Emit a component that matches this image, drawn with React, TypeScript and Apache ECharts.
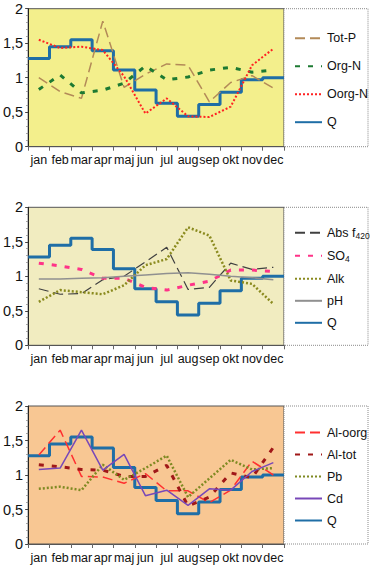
import React, { useEffect, useRef } from 'react';
import * as echarts from 'echarts';

const months = ['jan', 'feb', 'mar', 'apr', 'maj', 'jun', 'jul', 'aug', 'sep', 'okt', 'nov', 'dec'];

// Discharge (Q), same in all three panels
const q = [1.28, 1.45, 1.55, 1.39, 1.11, 0.82, 0.63, 0.44, 0.61, 0.79, 0.97, 1.0];

// Panel 1
const totP = [1.0, 0.8, 0.7, 1.82, 0.86, 1.05, 1.2, 1.18, 0.65, 0.93, 1.03, 0.85];
const orgN = [0.83, 1.04, 0.78, 0.82, 0.92, 1.17, 0.97, 1.01, 1.11, 1.15, 1.08, 1.11];
const oorgN = [1.55, 1.43, 1.45, 1.4, 1.02, 0.48, 0.7, 0.44, 0.43, 0.58, 1.18, 1.42];

// Panel 2
const absF420 = [0.82, 0.74, 0.75, 0.95, 1.0, 1.21, 1.42, 0.81, 0.84, 1.19, 1.1, 1.13];
const so4 = [1.19, 1.15, 1.1, 0.97, 0.97, 0.84, 0.8, 0.87, 0.93, 1.09, 1.09, 1.07];
const alk = [0.63, 0.8, 0.77, 0.74, 0.87, 1.16, 1.25, 1.71, 1.59, 0.94, 0.89, 0.6];
const pH = [0.96, 0.96, 0.97, 0.98, 1.0, 1.02, 1.04, 1.05, 1.03, 1.0, 0.98, 0.95];

// Panel 3
const alOorg = [1.29, 1.65, 0.98, 0.97, 0.88, 1.02, 0.77, 0.77, 0.6, 0.78, 1.2, 1.0];
const alTot = [1.15, 1.12, 1.08, 1.07, 0.98, 0.98, 1.14, 0.55, 0.68, 1.03, 0.96, 1.4];
const pb = [0.8, 0.83, 0.78, 1.15, 0.93, 1.1, 1.28, 0.68, 0.95, 1.22, 1.08, 1.1];
const cd = [1.08, 1.1, 1.65, 1.07, 1.3, 0.7, 0.78, 0.56, 0.8, 0.78, 1.05, 1.18];

const FONT = '"Liberation Sans", Arial, Helvetica, sans-serif';

type LineDef = { name: string; data: number[]; color: string; width: number; dash: any };

const panels: { bg: string; lines: LineDef[]; legendGap: number; legendOffset: number }[] = [
  {
    bg: '#f3ef8c',
    legendGap: 15,
    legendOffset: 25,
    lines: [
      { name: 'Tot-P', data: totP, color: '#b38a58', width: 1.5, dash: [10, 5] },
      { name: 'Org-N', data: orgN, color: '#1d7a32', width: 3, dash: [5, 8] },
      { name: 'Oorg-N', data: oorgN, color: '#ff2222', width: 2, dash: [2, 2] },
    ],
  },
  {
    bg: '#f1ecc0',
    legendGap: 9,
    legendOffset: 21,
    lines: [
      { name: 'Abs f420', data: absF420, color: '#404040', width: 1.2, dash: [10, 5] },
      { name: 'SO4', data: so4, color: '#ff3388', width: 3, dash: [5, 8] },
      { name: 'Alk', data: alk, color: '#8a8a1e', width: 2.5, dash: [2, 2] },
      { name: 'pH', data: pH, color: '#909090', width: 1.5, dash: 'solid' },
    ],
  },
  {
    bg: '#f8c793',
    legendGap: 9,
    legendOffset: 22,
    lines: [
      { name: 'Al-oorg', data: alOorg, color: '#ff3030', width: 1.5, dash: [10, 5] },
      { name: 'Al-tot', data: alTot, color: '#a01818', width: 3, dash: [5, 8] },
      { name: 'Pb', data: pb, color: '#7f8a22', width: 2.5, dash: [2, 2] },
      { name: 'Cd', data: cd, color: '#7848b8', width: 1.5, dash: 'solid' },
    ],
  },
];

const GRID_LEFT = 26;
const GRID_W = 258;
const GRID_H = 138;
const GRID_TOPS = [8.7, 207.3, 406];
const LEGEND_W = 84;

function buildOption() {
  const grid: any[] = [];
  const xAxis: any[] = [];
  const yAxis: any[] = [];
  const series: any[] = [];
  const legend: any[] = [];
  const graphic: any[] = [];

  panels.forEach((p, pi) => {
    const top = GRID_TOPS[pi];
    grid.push({
      left: GRID_LEFT,
      top,
      width: GRID_W,
      height: GRID_H,
      show: true,
      backgroundColor: p.bg,
      borderColor: '#555',
      borderWidth: 1,
    });
    xAxis.push({
      type: 'category',
      gridIndex: pi,
      data: months,
      boundaryGap: true,
      axisLine: { show: true, lineStyle: { color: '#555', width: 1 } },
      axisTick: { show: true, length: 4, lineStyle: { color: '#666' } },
      axisLabel: { interval: 0, fontSize: 12.5, color: '#111', margin: 7, fontFamily: FONT },
      splitLine: { show: false },
    });
    xAxis.push({
      type: 'value',
      gridIndex: pi,
      min: 0,
      max: 12,
      show: false,
      splitLine: { show: false },
    });
    yAxis.push({
      type: 'value',
      gridIndex: pi,
      min: 0,
      max: 2,
      interval: 0.5,
      axisLine: { show: true, lineStyle: { color: '#222', width: 1 } },
      axisTick: { show: true, length: 3, lineStyle: { color: '#444' } },
      minorTick: { show: true, splitNumber: 5, length: 2, lineStyle: { color: '#999' } },
      axisLabel: {
        fontSize: 14.5,
        color: '#111',
        margin: 5,
        fontFamily: FONT,
        formatter: (v: number) => String(v).replace('.', ','),
      },
      splitLine: { show: false },
    });

    p.lines.forEach((l) => {
      series.push({
        type: 'line',
        name: l.name,
        xAxisIndex: pi * 2 + 1,
        yAxisIndex: pi,
        symbol: 'none',
        data: l.data.map((v, i) => [i + 0.5, v]),
        lineStyle: { color: l.color, width: l.width, type: l.dash },
        itemStyle: { color: l.color },
        z: 3,
      });
    });
    series.push({
      type: 'line',
      name: 'Q',
      xAxisIndex: pi * 2 + 1,
      yAxisIndex: pi,
      symbol: 'none',
      step: 'end',
      data: q.map((v, i) => [i, v]).concat([[12, q[q.length - 1]]]),
      lineStyle: { color: '#1f6ea6', width: 3 },
      itemStyle: { color: '#1f6ea6' },
      z: 2,
    });

    graphic.push({
      type: 'rect',
      z: 0,
      shape: { x: GRID_LEFT + GRID_W, y: top, width: LEGEND_W, height: GRID_H },
      style: { fill: '#ffffff', stroke: '#8a8a8a', lineWidth: 1, lineDash: [1, 1] },
    });

    const names = p.lines.map((l) => l.name).concat(['Q']);
    legend.push({
      orient: 'vertical',
      left: 289,
      top: top + p.legendOffset - 7,
      itemWidth: 27,
      itemHeight: 14,
      itemGap: p.legendGap,
      selectedMode: false,
      itemStyle: { opacity: 0 },
      data: names,
      formatter: (name: string) => {
        if (name === 'Abs f420') return '{a|Abs f}{s|420}';
        if (name === 'SO4') return '{a|SO}{s|4}';
        return name;
      },
      textStyle: {
        fontSize: 12.5,
        color: '#111',
        fontFamily: FONT,
        rich: {
          a: { fontSize: 12.5, color: '#111', fontFamily: FONT },
          s: { fontSize: 8.5, color: '#111', fontFamily: FONT, padding: [6, 0, 0, 0] },
        },
      },
    });
  });

  return {
    animation: false,
    backgroundColor: '#ffffff',
    grid,
    xAxis,
    yAxis,
    series,
    legend,
    graphic,
  };
}

export default function App() {
  const ref = useRef<HTMLDivElement>(null);
  useEffect(() => {
    if (!ref.current) return;
    const chart = echarts.init(ref.current, undefined, { renderer: 'svg' });
    chart.setOption(buildOption() as any);
    return () => chart.dispose();
  }, []);
  return (
    <div
      ref={ref}
      style={{ position: 'fixed', left: 0, top: 0, width: 370, height: 565 }}
    />
  );
}
